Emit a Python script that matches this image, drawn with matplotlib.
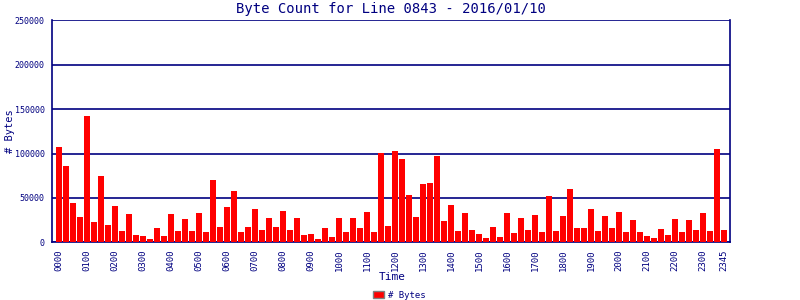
# Byte count per 15-minute slot for line 0843, 2016/01/10
import numpy as np
import matplotlib
matplotlib.use('Agg')
import matplotlib.pyplot as plt

# Time slots 0000 .. 2345, every 15 minutes
slots = [f'{h:02d}{m:02d}' for h in range(24) for m in (0, 15, 30, 45)]

# Bytes (one per slot)
bytes_count = [
    107600, 86100, 44300, 28500, 142500, 22900, 74800, 19500,
    41000, 12800, 32000, 8200, 7100, 3700, 16100, 7100,
    32000, 12800, 26300, 12800, 33000, 11600, 70300, 17300,
    39800, 57900, 11600, 17300, 37600, 13900, 27400, 17300,
    35300, 13900, 27400, 8200, 9400, 3700, 16100, 6000,
    27400, 11600, 27400, 16100, 34200, 11600, 100400, 18400,
    103000, 94000, 53400, 28500, 65800, 66900, 97400, 24000,
    42100, 12800, 33000, 13900, 9400, 4900, 17300, 6000,
    33000, 10500, 27400, 13900, 30800, 11600, 52300, 12800,
    29700, 60200, 16100, 16100, 37600, 12800, 29700, 16100,
    34200, 11600, 25200, 11600, 7100, 4900, 15000, 8200,
    26300, 11600, 25200, 13900, 33000, 12800, 105300, 13900,
]

# hourly tick labels plus the last slot
tick_idx = list(range(0, 96, 4)) + [95]
tick_lbl = [slots[i] for i in tick_idx]

navy = '#000080'
plt.rcParams['font.family'] = 'DejaVu Sans Mono'

fig = plt.figure(figsize=(8, 3), dpi=100)
ax = fig.add_axes([0.0644, 0.1923, 0.848, 0.74])

x = np.arange(len(bytes_count))
ax.bar(x, bytes_count, width=0.86, color='#ff0000', label='# Bytes', zorder=3)

ax.set_xlim(-1.07, 95.86)
ax.set_ylim(0, 250000)
ax.set_yticks([0, 50000, 100000, 150000, 200000, 250000])
ax.set_yticklabels(['0', '50000', '100000', '150000', '200000', '250000'],
                   fontsize=6, color=navy)
ax.set_xticks(tick_idx)
ax.set_xticklabels(tick_lbl, rotation=90, fontsize=6.5, color=navy)
ax.tick_params(length=0, pad=5)

ax.grid(axis='y', color=navy, linewidth=1.2, zorder=1)
for s in ['left', 'right', 'bottom']:
    ax.spines[s].set_color(navy)
    ax.spines[s].set_linewidth(1.2)
ax.spines['top'].set_visible(False)

ax.set_title('Byte Count for Line 0843 - 2016/01/10', fontsize=10, color=navy, pad=5)
ax.set_xlabel('Time', fontsize=8, color=navy)
ax.set_ylabel('# Bytes', fontsize=7.5, color=navy)
ax.xaxis.set_label_coords(0.502, -0.156)
ax.yaxis.set_label_coords(-0.061, 0.5)
ax.xaxis.label.set_va('center')
ax.yaxis.label.set_va('center')

leg = fig.legend(loc='center', bbox_to_anchor=(0.499, 0.016), frameon=False,
                 fontsize=6.5, handlelength=1.3, handleheight=0.9, handletextpad=0.4)
for t in leg.get_texts():
    t.set_color(navy)
for p in leg.get_patches():
    p.set_edgecolor('gray')
    p.set_linewidth(1)

plt.savefig('out.png', dpi=100)
